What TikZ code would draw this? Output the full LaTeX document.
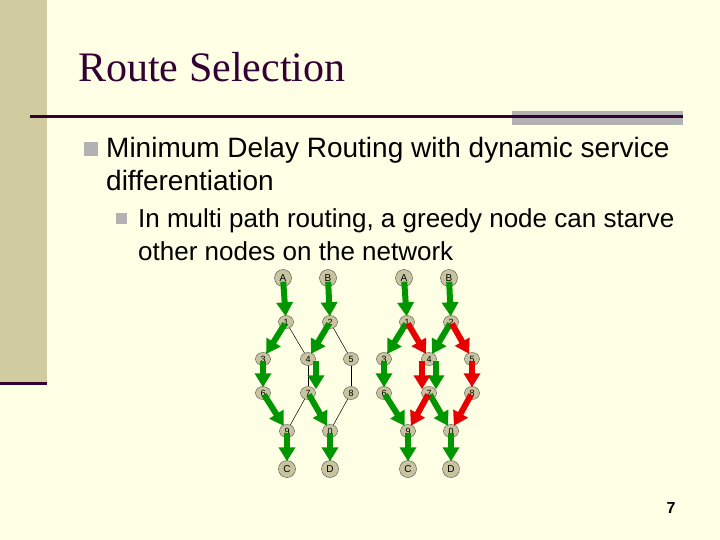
\documentclass[tikz,border=0pt]{standalone}
\usepackage{fontspec}
\setmainfont{Liberation Sans}
\newfontfamily\titlefont{Liberation Serif}
\usetikzlibrary{arrows.meta,shapes.geometric}
\definecolor{bg}{RGB}{255,255,229}
\definecolor{strip}{RGB}{208,204,160}
\definecolor{dark}{RGB}{51,0,51}
\definecolor{bar}{RGB}{178,178,178}
\definecolor{nodefill}{RGB}{200,196,160}
\definecolor{grn}{RGB}{0,150,0}
\definecolor{rd}{RGB}{230,0,0}
\tikzset{
  big/.style={circle,draw=black!70,fill=nodefill,inner sep=0pt,minimum size=17pt,font=\fontsize{10}{10}\selectfont},
  small/.style={ellipse,draw=black!70,fill=nodefill,inner sep=0pt,minimum width=15pt,minimum height=13pt,font=\fontsize{9}{9}\selectfont},
  thin/.style={draw=black,line width=0.5pt},
  fl/.style={line width=6pt,-{Triangle[width=16pt,length=14pt]},shorten <=-5pt,shorten >=-1pt},
  g/.style={fl,draw=grn},
  r/.style={fl,draw=rd},
}
\begin{document}
\begin{tikzpicture}[x=1pt,y=-1pt]
\useasboundingbox (0,0) rectangle (720,540);
\fill[bg] (0,0) rectangle (720,540);
\fill[strip] (0,0) rectangle (47,383);
\draw[dark,line width=3pt] (0,383) -- (47,383);
\fill[bar] (512,111) rectangle (683,125);
\draw[dark,line width=3pt] (30,117) -- (683,117);
\node[anchor=base west,text=dark,font=\titlefont\fontsize{42}{42}\selectfont,inner sep=0pt] (title) at (78,82) {Route Selection};
\fill[bar] (84,142) rectangle (98,156);
\node[anchor=base west,font=\fontsize{28}{32}\selectfont,inner sep=0pt] (b1) at (106,158) {Minimum Delay Routing with dynamic service};
\node[anchor=base west,font=\fontsize{28}{32}\selectfont,inner sep=0pt] (b1b) at (106,191) {differentiation};
\fill[bar] (116,213) rectangle (127,224);
\node[anchor=base west,font=\fontsize{26}{30}\selectfont,inner sep=0pt] (b2) at (138,228) {In multi path routing, a greedy node can starve};
\node[anchor=base west,font=\fontsize{26}{30}\selectfont,inner sep=0pt] (b2b) at (138,260) {other nodes on the network};
\node[anchor=base,font=\bfseries\fontsize{16}{16}\selectfont,inner sep=0pt] (pg) at (671,513) {7};
\foreach \p/\dx in {L/0,R/121}{
  \begin{scope}[xshift=\dx]
  \node[big] (\p A) at (283,278) {A};
  \node[big] (\p B) at (328,278) {B};
  \node[small] (\p 1) at (286,322) {1};
  \node[small] (\p 2) at (330,322) {2};
  \node[small] (\p 3) at (263,359) {3};
  \node[small] (\p 4) at (308,359) {4};
  \node[small] (\p 5) at (351,359) {5};
  \node[small] (\p 6) at (263,393) {6};
  \node[small] (\p 7) at (308,393) {7};
  \node[small] (\p 8) at (351,393) {8};
  \node[small] (\p 9) at (287,431) {9};
  \node[small] (\p 0) at (330,431) {0};
  \node[big] (\p C) at (287,469) {C};
  \node[big] (\p D) at (330,469) {D};
  \end{scope}
}
\foreach \a/\b in {A/1,B/2,1/3,1/4,2/4,2/5,3/6,4/7,5/8,6/9,7/9,7/0,8/0,9/C,0/D}{
  \draw[thin] (L\a) -- (L\b);
}
\foreach \a/\b in {A/1,B/2,1/3,2/4,3/6,6/9,7/0,9/C,0/D}{
  \draw[g] (L\a) -- (L\b);
  \draw[g] (R\a) -- (R\b);
}
\draw[g] ([xshift=8pt]L4.south) -- ([xshift=8pt,yshift=-2pt]L7.north);
\draw[g] ([xshift=7pt]R4.south) -- ([xshift=7pt,yshift=-2pt]R7.north);
\draw[r] ([xshift=-7pt]R4.south) -- ([xshift=-7pt,yshift=-2pt]R7.north);
\foreach \a/\b in {1/4,2/5,5/8,7/9,8/0}{
  \draw[r] (R\a) -- (R\b);
}
\end{tikzpicture}
\end{document}
